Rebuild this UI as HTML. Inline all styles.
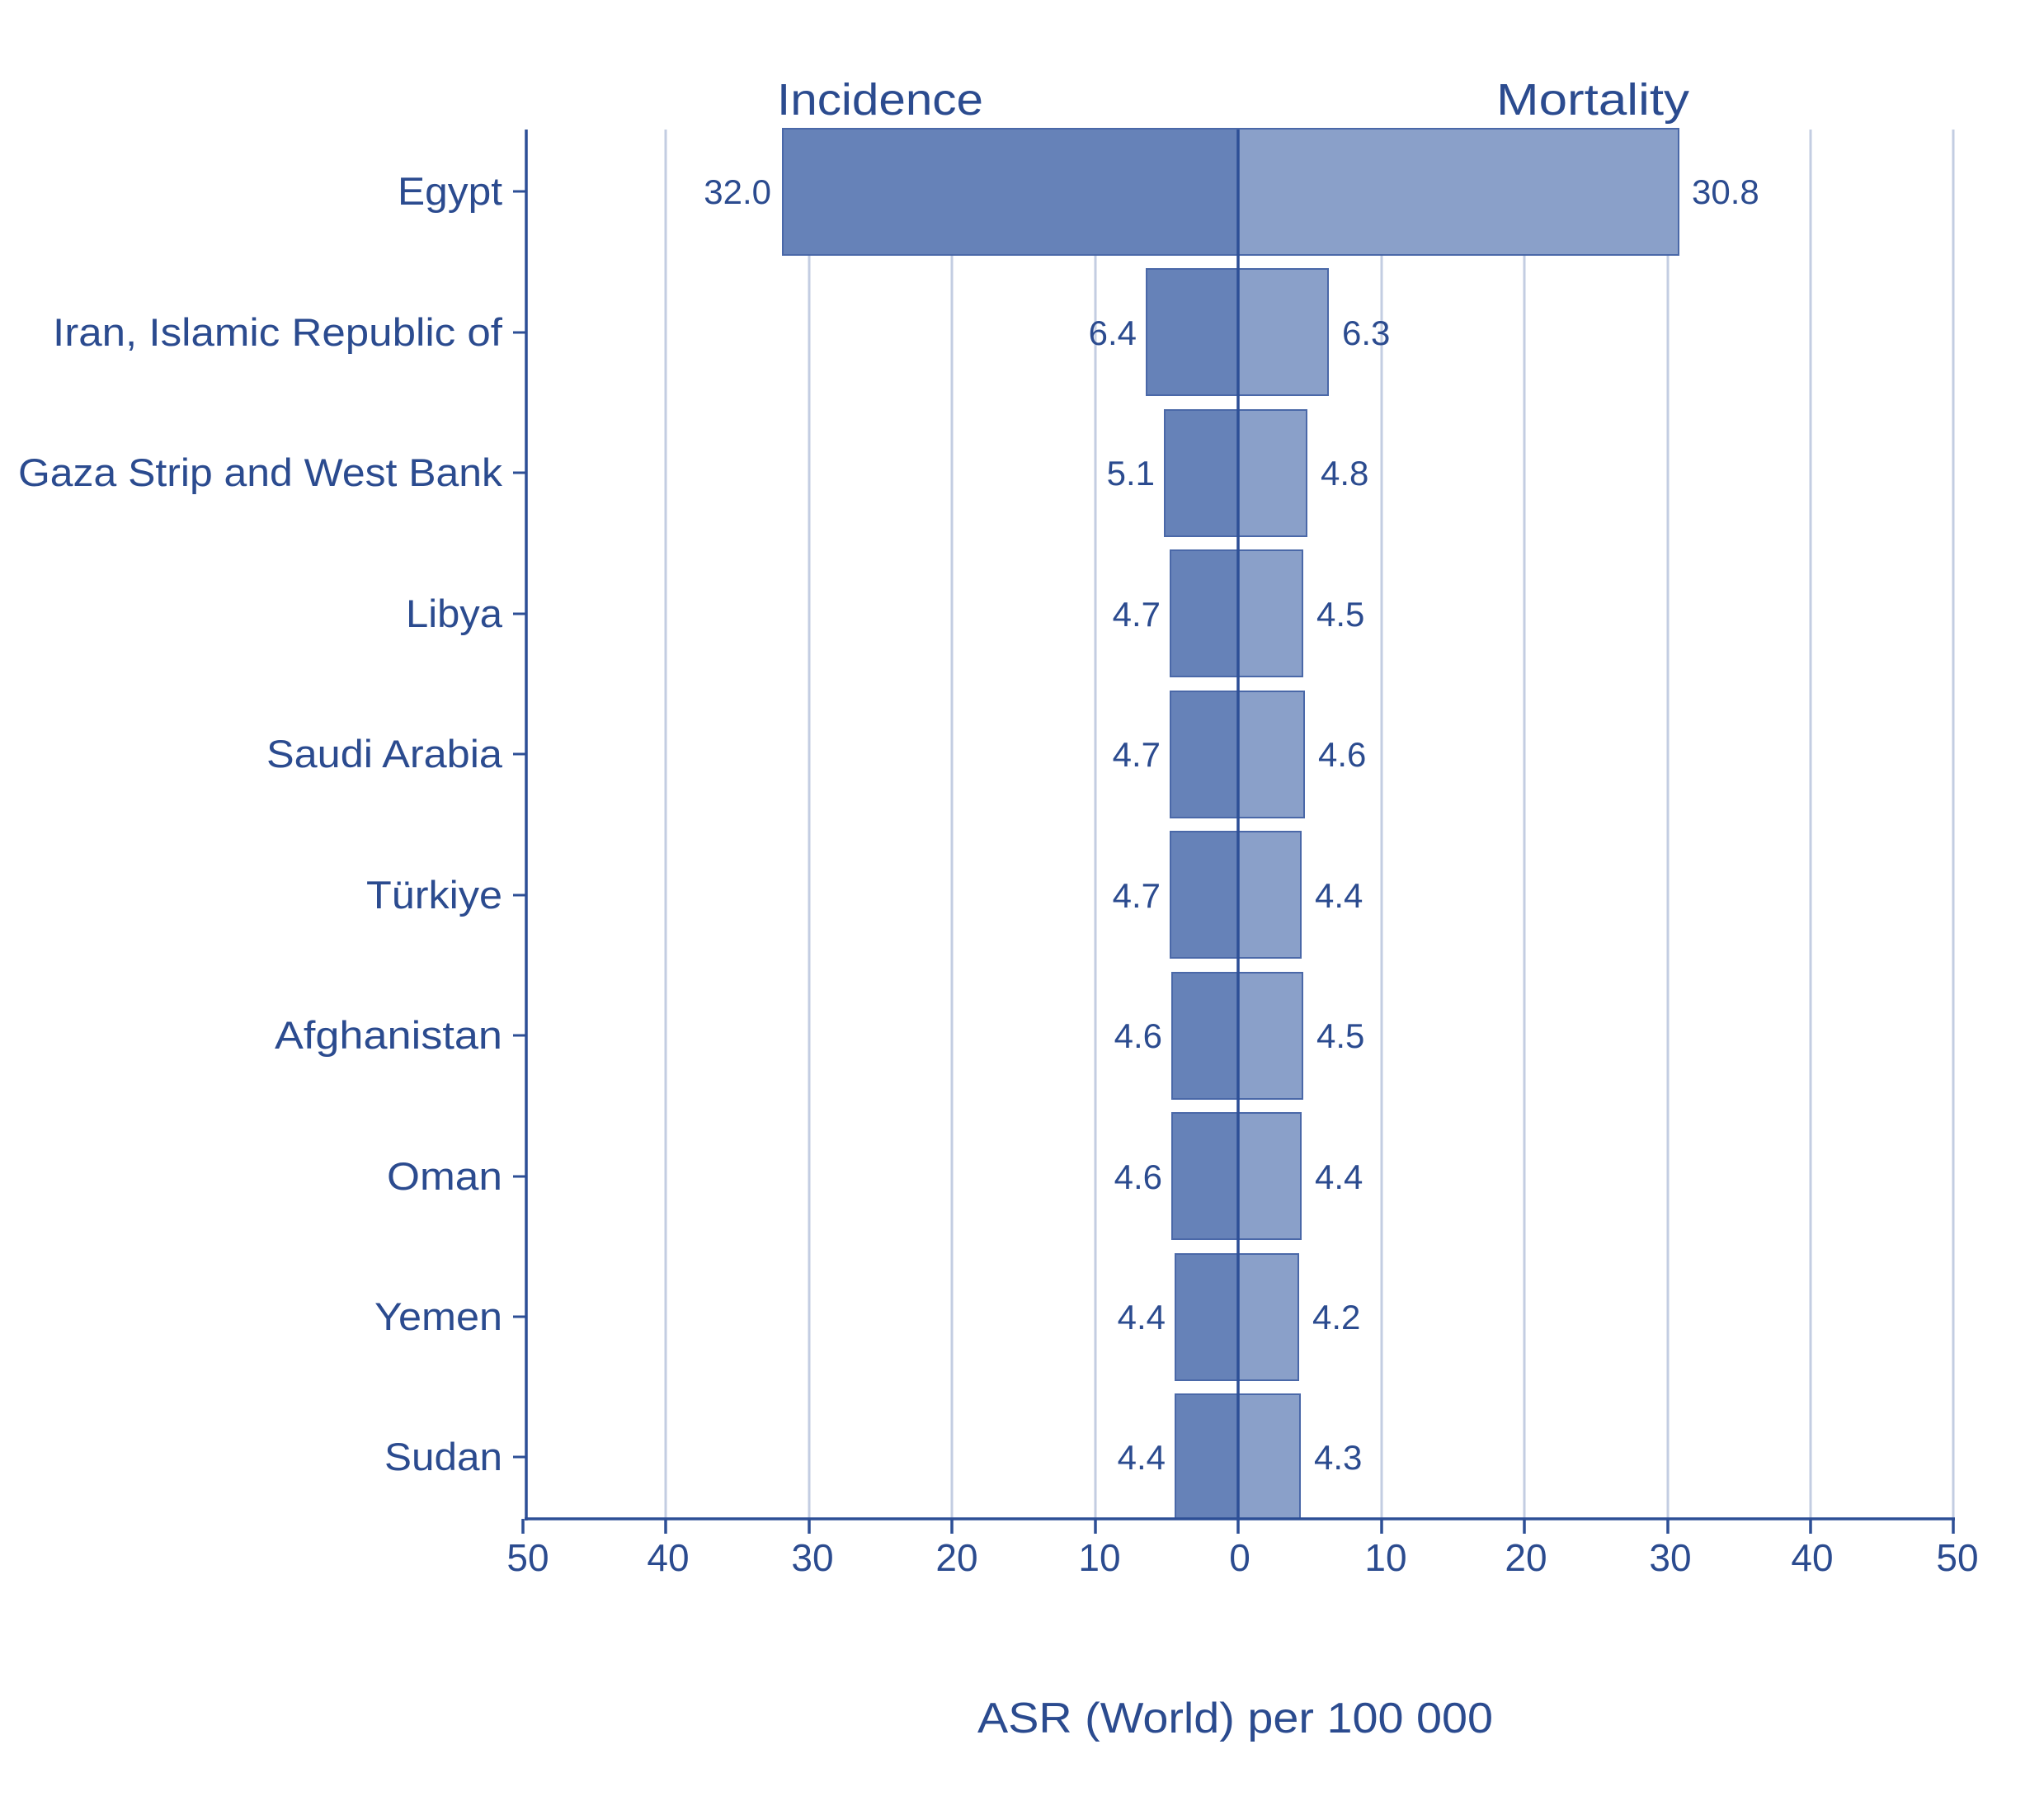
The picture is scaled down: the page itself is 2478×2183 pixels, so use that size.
<!DOCTYPE html>
<html><head><meta charset="utf-8"><style>
html,body{margin:0;padding:0;background:#fff}
svg{display:block}
text{font-family:"Liberation Sans",sans-serif;fill:#2b4b8f}
</style></head><body>
<svg width="2478" height="2183" viewBox="0 0 2478 2183" xmlns="http://www.w3.org/2000/svg">
<g stroke="#c3cde2" stroke-width="3">
<line x1="807" y1="157" x2="807" y2="1841"/>
<line x1="981" y1="157" x2="981" y2="1841"/>
<line x1="1154" y1="157" x2="1154" y2="1841"/>
<line x1="1328" y1="157" x2="1328" y2="1841"/>
<line x1="1675" y1="157" x2="1675" y2="1841"/>
<line x1="1848" y1="157" x2="1848" y2="1841"/>
<line x1="2022" y1="157" x2="2022" y2="1841"/>
<line x1="2195" y1="157" x2="2195" y2="1841"/>
<line x1="2368" y1="157" x2="2368" y2="1841"/>
</g>
<g stroke="#4a68a8" stroke-width="2">
<rect x="949" y="156" width="552" height="153" fill="#6682b8"/><rect x="1501" y="156" width="534" height="153" fill="#8aa0c9"/>
<rect x="1390" y="326" width="111" height="153" fill="#6682b8"/><rect x="1501" y="326" width="109" height="153" fill="#8aa0c9"/>
<rect x="1412" y="497" width="89" height="153" fill="#6682b8"/><rect x="1501" y="497" width="83" height="153" fill="#8aa0c9"/>
<rect x="1419" y="667" width="82" height="153" fill="#6682b8"/><rect x="1501" y="667" width="78" height="153" fill="#8aa0c9"/>
<rect x="1419" y="838" width="82" height="153" fill="#6682b8"/><rect x="1501" y="838" width="80" height="153" fill="#8aa0c9"/>
<rect x="1419" y="1008" width="82" height="153" fill="#6682b8"/><rect x="1501" y="1008" width="76" height="153" fill="#8aa0c9"/>
<rect x="1421" y="1179" width="80" height="153" fill="#6682b8"/><rect x="1501" y="1179" width="78" height="153" fill="#8aa0c9"/>
<rect x="1421" y="1349" width="80" height="153" fill="#6682b8"/><rect x="1501" y="1349" width="76" height="153" fill="#8aa0c9"/>
<rect x="1425" y="1520" width="76" height="153" fill="#6682b8"/><rect x="1501" y="1520" width="73" height="153" fill="#8aa0c9"/>
<rect x="1425" y="1690" width="76" height="151" fill="#6682b8"/><rect x="1501" y="1690" width="75" height="151" fill="#8aa0c9"/>
</g>
<g stroke="#2d4f96" stroke-width="3.5">
<line x1="1501" y1="157" x2="1501" y2="1859"/>
<line x1="638" y1="157" x2="638" y2="1843"/>
<line x1="636" y1="1841" x2="2370" y2="1841"/>
<line x1="634" y1="1841" x2="634" y2="1859"/>
<line x1="807" y1="1841" x2="807" y2="1859"/>
<line x1="981" y1="1841" x2="981" y2="1859"/>
<line x1="1154" y1="1841" x2="1154" y2="1859"/>
<line x1="1328" y1="1841" x2="1328" y2="1859"/>
<line x1="1675" y1="1841" x2="1675" y2="1859"/>
<line x1="1848" y1="1841" x2="1848" y2="1859"/>
<line x1="2022" y1="1841" x2="2022" y2="1859"/>
<line x1="2195" y1="1841" x2="2195" y2="1859"/>
<line x1="2368" y1="1841" x2="2368" y2="1859"/>
</g>
<g stroke="#2d4f96" stroke-width="3">
<line x1="622" y1="232" x2="638" y2="232"/><line x1="622" y1="403" x2="638" y2="403"/>
<line x1="622" y1="573" x2="638" y2="573"/><line x1="622" y1="744" x2="638" y2="744"/>
<line x1="622" y1="914" x2="638" y2="914"/><line x1="622" y1="1085" x2="638" y2="1085"/>
<line x1="622" y1="1255" x2="638" y2="1255"/><line x1="622" y1="1426" x2="638" y2="1426"/>
<line x1="622" y1="1596" x2="638" y2="1596"/><line x1="622" y1="1766" x2="638" y2="1766"/>
</g>
<g font-size="47" text-anchor="end">
<text x="609" y="248" textLength="127" lengthAdjust="spacingAndGlyphs">Egypt</text>
<text x="609" y="419" textLength="545" lengthAdjust="spacingAndGlyphs">Iran, Islamic Republic of</text>
<text x="609" y="589" textLength="587" lengthAdjust="spacingAndGlyphs">Gaza Strip and West Bank</text>
<text x="609" y="760" textLength="117" lengthAdjust="spacingAndGlyphs">Libya</text>
<text x="609" y="930" textLength="286" lengthAdjust="spacingAndGlyphs">Saudi Arabia</text>
<text x="609" y="1101" textLength="165" lengthAdjust="spacingAndGlyphs">Türkiye</text>
<text x="609" y="1271" textLength="276" lengthAdjust="spacingAndGlyphs">Afghanistan</text>
<text x="609" y="1442" textLength="140" lengthAdjust="spacingAndGlyphs">Oman</text>
<text x="609" y="1612" textLength="155" lengthAdjust="spacingAndGlyphs">Yemen</text>
<text x="609" y="1782" textLength="143" lengthAdjust="spacingAndGlyphs">Sudan</text>
</g>
<g font-size="42" text-anchor="end">
<text x="935" y="247">32.0</text><text x="1378" y="418">6.4</text>
<text x="1400" y="588">5.1</text><text x="1407" y="759">4.7</text>
<text x="1407" y="929">4.7</text><text x="1407" y="1100">4.7</text>
<text x="1409" y="1270">4.6</text><text x="1409" y="1441">4.6</text>
<text x="1413" y="1611">4.4</text><text x="1413" y="1781">4.4</text>
</g>
<g font-size="42">
<text x="2051" y="247">30.8</text><text x="1627" y="418">6.3</text>
<text x="1601" y="588">4.8</text><text x="1596" y="759">4.5</text>
<text x="1598" y="929">4.6</text><text x="1594" y="1100">4.4</text>
<text x="1596" y="1270">4.5</text><text x="1594" y="1441">4.4</text>
<text x="1591" y="1611">4.2</text><text x="1593" y="1781">4.3</text>
</g>
<g font-size="46" text-anchor="middle">
<text x="640" y="1904">50</text><text x="810" y="1904">40</text><text x="985" y="1904">30</text>
<text x="1160" y="1904">20</text><text x="1333" y="1904">10</text><text x="1503" y="1904">0</text>
<text x="1680" y="1904">10</text><text x="1850" y="1904">20</text><text x="2025" y="1904">30</text>
<text x="2197" y="1904">40</text><text x="2373" y="1904">50</text>
</g>
<text x="942" y="139" font-size="54" textLength="250" lengthAdjust="spacingAndGlyphs">Incidence</text>
<text x="1814" y="139" font-size="54" textLength="234" lengthAdjust="spacingAndGlyphs">Mortality</text>
<text x="1185" y="2100" font-size="52" textLength="625" lengthAdjust="spacingAndGlyphs">ASR (World) per 100 000</text>
</svg>
</body></html>
